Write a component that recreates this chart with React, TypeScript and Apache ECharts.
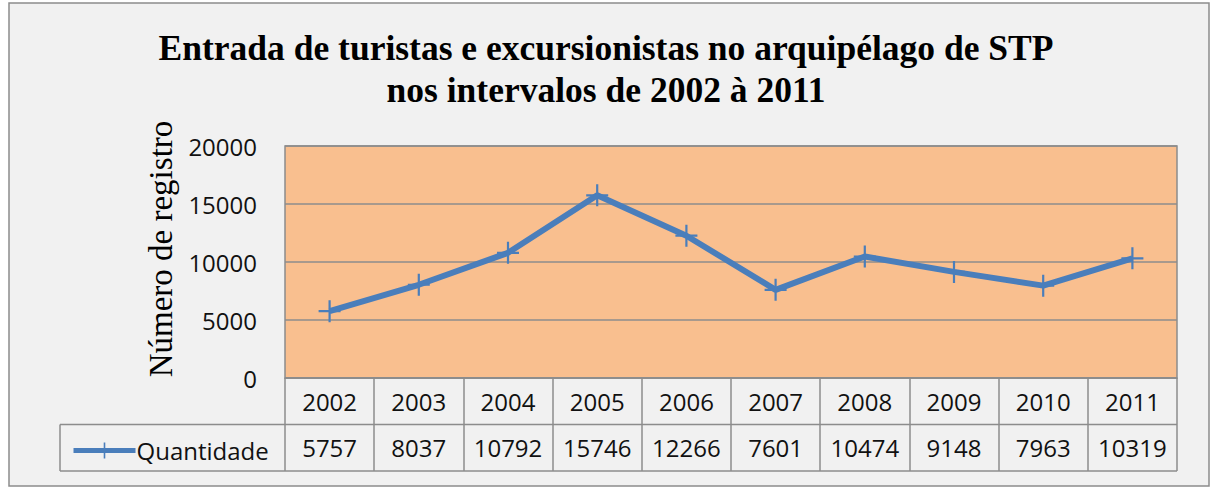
import React, { useEffect, useRef } from "react";
import * as echarts from "echarts";

const years = ["2002", "2003", "2004", "2005", "2006", "2007", "2008", "2009", "2010", "2011"];
const quantidade = [5757, 8037, 10792, 15746, 12266, 7601, 10474, 9148, 7963, 10319];
const yTicks = { min: 0, max: 20000, interval: 5000 };
const seriesName = "Quantidade";
const titleText = "Entrada de turistas e excursionistas no arquipélago de STP\nnos intervalos de 2002 à 2011";
const yAxisTitle = "Número de registro";

const PLUS = "path://M9,0h2v9h9v2h-9v9h-2v-9h-9v-2h9z";

export default function App() {
  const ref = useRef<HTMLDivElement>(null);
  useEffect(() => {
    if (!ref.current) return;
    const chart = echarts.init(ref.current, undefined, { renderer: "svg" });
    const gray = "#8c8c8c";
    const font = "'Open Sans', 'Noto Sans', sans-serif";
    const serif = "'Liberation Serif', 'DejaVu Serif', serif";
    const gridLeft = 285, gridTop = 146, gridW = 892, gridH = 232;
    const gridBottom = gridTop + gridH;
    const rowH = 46.5;
    chart.setOption({
      animation: false,
      backgroundColor: "#ffffff",
      title: {
        text: titleText,
        left: "center",
        top: 22,
        textStyle: {
          fontFamily: serif,
          fontWeight: "bold",
          fontSize: 35.5,
          lineHeight: 42,
          color: "#000",
        },
      },
      legend: {
        show: true,
        left: 66,
        top: gridBottom + rowH + 9,
        itemWidth: 62,
        itemHeight: 20,
        itemGap: 4,
        lineStyle: { width: 5 },
        textStyle: { fontFamily: font, fontSize: 24, color: "#111", padding: [0, 0, 0, -4] },
        data: [seriesName],
      },
      grid: {
        left: gridLeft,
        top: gridTop,
        width: gridW,
        height: gridH,
        show: true,
        backgroundColor: "#f9bf8f",
        borderColor: gray,
        borderWidth: 1.5,
      },
      xAxis: [
        {
          type: "category",
          data: years,
          boundaryGap: true,
          position: "bottom",
          axisLine: { show: true, lineStyle: { color: gray, width: 1.5 } },
          axisTick: { show: true, interval: 0, length: rowH * 2, lineStyle: { color: gray, width: 1.5 } },
          axisLabel: { interval: 0, margin: 9, fontFamily: font, fontSize: 24, lineHeight: 28, color: "#111" },
          splitLine: { show: false },
        },
        {
          type: "category",
          data: quantidade.map(String),
          boundaryGap: true,
          position: "bottom",
          offset: rowH,
          axisLine: { show: false },
          axisTick: { show: false },
          axisLabel: { interval: 0, margin: 9, fontFamily: font, fontSize: 24, lineHeight: 28, color: "#111" },
          splitLine: { show: false },
        },
      ],
      yAxis: {
        type: "value",
        min: yTicks.min,
        max: yTicks.max,
        interval: yTicks.interval,
        name: yAxisTitle,
        nameLocation: "middle",
        nameRotate: 90,
        nameGap: 104,
        nameTextStyle: { fontFamily: serif, fontSize: 33, color: "#000", padding: [0, 0, 0, 26] },
        axisLine: { show: false },
        axisTick: { show: false },
        axisLabel: {
          margin: 28,
          fontFamily: font,
          fontSize: 24,
          color: "#111",
          formatter: (v: number) => String(v),
        },
        splitLine: { show: true, lineStyle: { color: gray, width: 1.5 } },
      },
      series: [
        {
          name: seriesName,
          type: "line",
          xAxisIndex: 0,
          data: quantidade,
          symbol: PLUS,
          symbolSize: 22,
          showSymbol: true,
          lineStyle: { color: "#4a7ebb", width: 6 },
          itemStyle: { color: "#4a7ebb" },
        },
      ],
      graphic: [
        {
          type: "rect",
          z: -10,
          shape: { x: 9, y: 3, width: 1200, height: 483 },
          style: { fill: "#f1f1f1", stroke: gray, lineWidth: 1.5 },
        },
        {
          type: "line",
          shape: { x1: 60, y1: gridBottom + rowH, x2: gridLeft + gridW, y2: gridBottom + rowH },
          style: { stroke: gray, lineWidth: 1.5 },
        },
        {
          type: "line",
          shape: { x1: 60, y1: gridBottom + 2 * rowH, x2: gridLeft + gridW, y2: gridBottom + 2 * rowH },
          style: { stroke: gray, lineWidth: 1.5 },
        },
        {
          type: "line",
          shape: { x1: 60, y1: gridBottom + rowH, x2: 60, y2: gridBottom + 2 * rowH },
          style: { stroke: gray, lineWidth: 1.5 },
        },
      ],
    });
    return () => chart.dispose();
  }, []);
  return (
    <div
      ref={ref}
      style={{ position: "absolute", left: 0, top: 0, width: 1212, height: 489 }}
    />
  );
}
